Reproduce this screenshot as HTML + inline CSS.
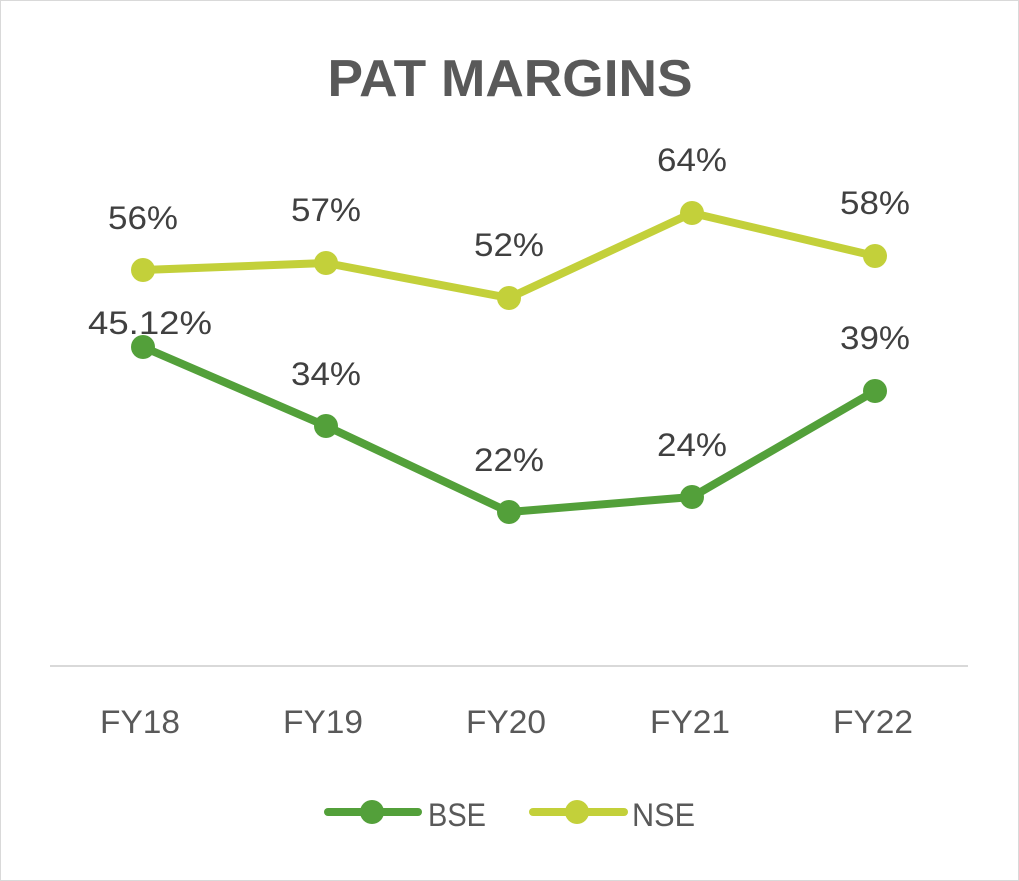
<!DOCTYPE html>
<html><head><meta charset="utf-8"><style>
html,body{margin:0;padding:0;background:#fff}
svg{display:block}
text{font-family:"Liberation Sans",sans-serif}
</style></head><body>
<svg width="1019" height="881" viewBox="0 0 1019 881">
<rect x="0.5" y="0.5" width="1018" height="880" fill="#fff" stroke="#d9d9d9"/>
<text x="510" y="96" text-anchor="middle" font-size="52" font-weight="bold" fill="#595959" textLength="365" lengthAdjust="spacingAndGlyphs">PAT MARGINS</text>
<line x1="50" y1="666" x2="968" y2="666" stroke="#d9d9d9" stroke-width="2"/>
<g font-size="32" fill="#595959" text-anchor="middle">
<text x="140" y="733" textLength="80" lengthAdjust="spacingAndGlyphs">FY18</text>
<text x="323" y="733" textLength="80" lengthAdjust="spacingAndGlyphs">FY19</text>
<text x="506" y="733" textLength="80" lengthAdjust="spacingAndGlyphs">FY20</text>
<text x="690" y="733" textLength="80" lengthAdjust="spacingAndGlyphs">FY21</text>
<text x="873" y="733" textLength="80" lengthAdjust="spacingAndGlyphs">FY22</text>
</g>
<polyline points="143,270 326,263 509,298 692,213 875,256" fill="none" stroke="#c3d03a" stroke-width="8" stroke-linejoin="round"/>
<polyline points="143,347 326,426 509,512 692,497 875,391" fill="none" stroke="#53a03a" stroke-width="8" stroke-linejoin="round"/>
<g fill="#c3d03a"><circle cx="143" cy="270" r="12"/><circle cx="326" cy="263" r="12"/><circle cx="509" cy="298" r="12"/><circle cx="692" cy="213" r="12"/><circle cx="875" cy="256" r="12"/></g>
<g fill="#53a03a"><circle cx="143" cy="347" r="12"/><circle cx="326" cy="426" r="12"/><circle cx="509" cy="512" r="12"/><circle cx="692" cy="497" r="12"/><circle cx="875" cy="391" r="12"/></g>
<g font-size="32" fill="#404040" text-anchor="middle">
<text x="143" y="229" textLength="70" lengthAdjust="spacingAndGlyphs">56%</text>
<text x="326" y="221" textLength="70" lengthAdjust="spacingAndGlyphs">57%</text>
<text x="509" y="256" textLength="70" lengthAdjust="spacingAndGlyphs">52%</text>
<text x="692" y="171" textLength="70" lengthAdjust="spacingAndGlyphs">64%</text>
<text x="875" y="214" textLength="70" lengthAdjust="spacingAndGlyphs">58%</text>
<text x="150" y="334" textLength="124" lengthAdjust="spacingAndGlyphs">45.12%</text>
<text x="326" y="385" textLength="70" lengthAdjust="spacingAndGlyphs">34%</text>
<text x="509" y="471" textLength="70" lengthAdjust="spacingAndGlyphs">22%</text>
<text x="692" y="456" textLength="70" lengthAdjust="spacingAndGlyphs">24%</text>
<text x="875" y="349" textLength="70" lengthAdjust="spacingAndGlyphs">39%</text>
</g>
<line x1="328" y1="812" x2="418" y2="812" stroke="#53a03a" stroke-width="8" stroke-linecap="round"/>
<circle cx="372" cy="812" r="12" fill="#53a03a"/>
<text x="428" y="826" font-size="32" fill="#595959" textLength="58" lengthAdjust="spacingAndGlyphs">BSE</text>
<line x1="533" y1="812" x2="624" y2="812" stroke="#c3d03a" stroke-width="8" stroke-linecap="round"/>
<circle cx="577" cy="812" r="12" fill="#c3d03a"/>
<text x="632" y="826" font-size="32" fill="#595959" textLength="63" lengthAdjust="spacingAndGlyphs">NSE</text>
</svg>
</body></html>
